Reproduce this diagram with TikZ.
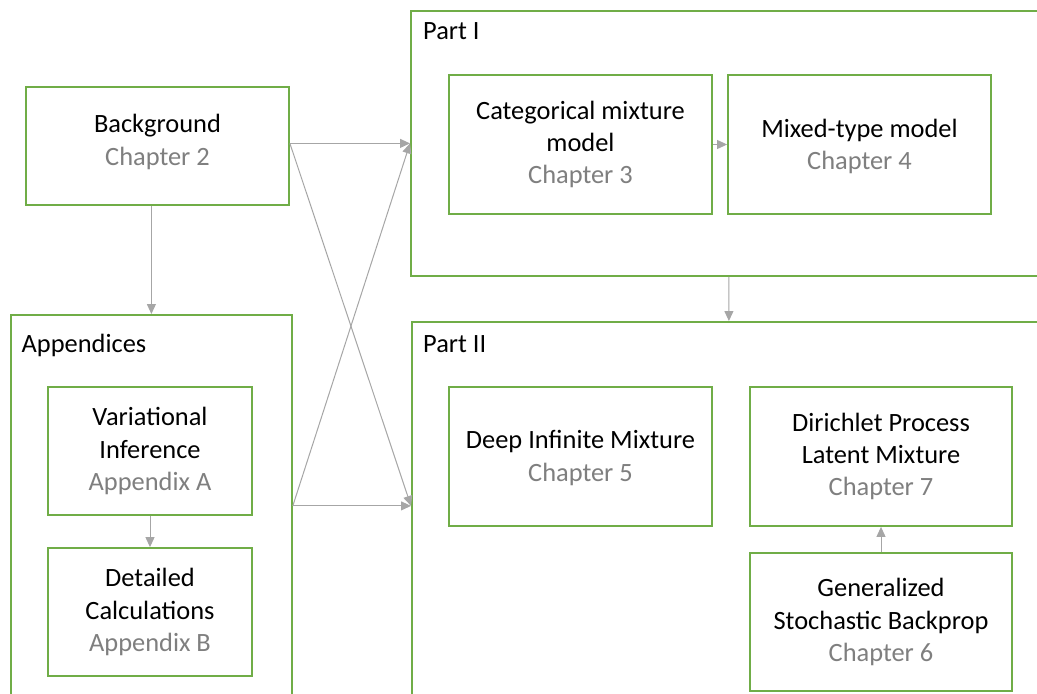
\documentclass[tikz,border=0pt]{standalone}
\usepackage{fontspec}
\setmainfont{Carlito}
\usetikzlibrary{arrows.meta}
\definecolor{frame}{RGB}{112,173,71}
\definecolor{linkgray}{RGB}{166,166,166}
\definecolor{chapgray}{RGB}{127,127,127}
\newcommand{\chapnote}[1]{{\color{chapgray}#1}}
\begin{document}
\begin{tikzpicture}[x=1bp,y=-1bp,
  panel/.style={draw=frame, line width=1.8bp, inner sep=0pt, anchor=north west},
  card/.style={draw=frame, line width=1.8bp, inner sep=0pt, align=center,
    font=\fontsize{26.5}{32.3}\selectfont},
  cardtext/.style={inner sep=0pt, align=center, font=\fontsize{26.5}{32.3}\selectfont},
  title/.style={anchor=base west, inner sep=0pt, font=\fontsize{26.5}{32.3}\selectfont},
  link/.style={draw=linkgray, line width=1bp, -{Triangle[length=10bp,width=9bp]}}
]
\useasboundingbox[fill=white] (0,0) rectangle (1037,694);
\clip (0,0) rectangle (1037,694);

% group panels
\node[panel, minimum width=636bp, minimum height=265bp] (partI) at (410,10) {};
\node[panel, minimum width=634bp, minimum height=400bp] (partII) at (411,321) {};
\node[panel, minimum width=281bp, minimum height=382bp] (app) at (10,314) {};

\node[title] (tI) at (423,40) {Part I};
\node[title] (tII) at (423,352) {Part II};
\node[title] (tA) at (21.5,352) {Appendices};

% chapter cards
\node[card, minimum width=263bp, minimum height=118bp] (bg) at (157.5,146) {};
\node[cardtext] (bgtext) at ([yshift=4bp]bg.center) {Background\\\chapnote{Chapter 2}};

\node[card, minimum width=263bp, minimum height=139bp] (cat) at (580.5,144.5)
  {Categorical mixture\\model\\\chapnote{Chapter 3}};
\node[card, minimum width=263bp, minimum height=139bp] (mix) at (859.5,144.5) {};
\node[cardtext] (mixtext) at ([yshift=-2bp]mix.center)
  {Mixed-type model\\\chapnote{Chapter 4}};

\node[card, minimum width=204bp, minimum height=128bp] (va) at (150,451)
  {Variational\\Inference\\\chapnote{Appendix A}};
\node[card, minimum width=204bp, minimum height=128bp] (dc) at (150,612)
  {Detailed\\Calculations\\\chapnote{Appendix B}};

\node[card, minimum width=263bp, minimum height=139bp] (dim) at (580.5,456.5) {};
\node[cardtext] (dimtext) at ([yshift=-1.5bp]dim.center)
  {Deep Infinite Mixture\\\chapnote{Chapter 5}};
\node[card, minimum width=262bp, minimum height=139bp] (dp) at (881,456.5)
  {Dirichlet Process\\Latent Mixture\\\chapnote{Chapter 7}};
\node[card, minimum width=262bp, minimum height=138bp] (gsb) at (881,622)
  {Generalized\\Stochastic Backprop\\\chapnote{Chapter 6}};

% dependencies
\draw[link] (bg.east |- partI.west) -- (partI.west);
\draw[link] (bg.east |- partI.west) -- (partII.west |- app.east);
\draw[link] (app.east) -- (partII.west |- app.east);
\draw[link] (app.east) -- (partI.west);
\draw[link] (bg.south -| app.north) -- (app.north);
\draw[link] (partI.south) -- (partII.north);
\draw[link] (cat.east) -- (mix.west);
\draw[link] (va.south) -- (dc.north);
\draw[link] (gsb.north) -- (dp.south);
\end{tikzpicture}
\end{document}
